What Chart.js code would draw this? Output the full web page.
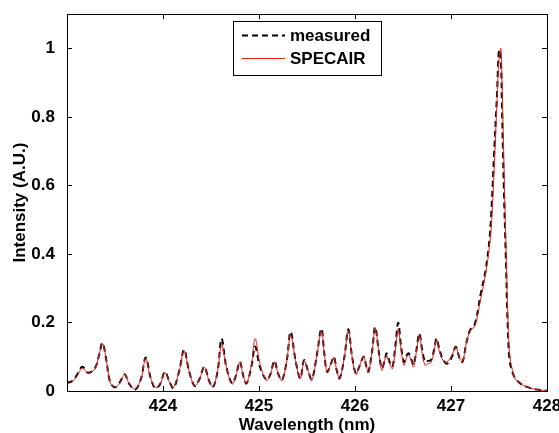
<!DOCTYPE html>
<html>
<head>
<meta charset="utf-8">
<script src="https://cdn.jsdelivr.net/npm/chart.js@4.4.1/dist/chart.umd.min.js"></script>
<style>
html,body{margin:0;padding:0;background:#fff;}
#wrap{width:559px;height:433px;}
</style>
</head>
<body>
<div id="wrap"><canvas id="c" width="559" height="433"></canvas></div>
<script>
// ---- data ----
const wavelength = [
423.00,423.05,423.10,423.16,423.22,423.29,423.33,423.37,423.41,423.45,
423.50,423.55,423.60,423.65,423.71,423.77,423.82,423.87,423.92,423.97,
424.02,424.07,424.11,424.17,424.22,424.27,424.33,424.38,424.43,424.48,
424.52,424.57,424.61,424.66,424.72,424.76,424.80,424.84,424.87,424.92,
424.96,425.01,425.08,425.12,425.16,425.20,425.24,425.29,425.33,425.38,
425.43,425.47,425.51,425.55,425.60,425.65,425.68,425.71,425.75,425.78,
425.81,425.84,425.89,425.93,425.97,426.01,426.05,426.09,426.12,426.14,
426.18,426.21,426.25,426.28,426.31,426.33,426.36,426.39,426.42,426.45,
426.48,426.51,426.54,426.56,426.59,426.61,426.64,426.67,426.70,426.73,
426.76,426.79,426.82,426.85,426.88,426.92,426.96,427.01,427.05,427.09,
427.12,427.16,427.20,427.25,427.31,427.36,427.40,427.42,427.45,427.48,
427.50,427.52,427.53,427.55,427.57,427.59,427.61,427.64,427.67,427.73,
427.79,427.86,427.93,428.00];
const measured = [
0.025,0.028,0.045,0.071,0.053,0.066,0.100,0.140,0.090,0.025,
0.011,0.025,0.049,0.020,0.004,0.035,0.098,0.040,0.008,0.020,
0.056,0.025,0.008,0.060,0.121,0.060,0.015,0.035,0.071,0.030,
0.011,0.060,0.153,0.070,0.022,0.045,0.085,0.040,0.022,0.070,
0.130,0.070,0.032,0.050,0.088,0.050,0.032,0.090,0.173,0.090,
0.037,0.090,0.060,0.034,0.100,0.182,0.110,0.056,0.080,0.100,
0.060,0.037,0.100,0.180,0.100,0.051,0.075,0.100,0.070,0.056,
0.120,0.187,0.110,0.066,0.090,0.110,0.085,0.071,0.130,0.199,
0.130,0.085,0.105,0.110,0.090,0.076,0.120,0.168,0.120,0.085,
0.088,0.090,0.115,0.153,0.120,0.090,0.080,0.100,0.129,0.095,
0.085,0.140,0.178,0.197,0.284,0.352,0.440,0.520,0.700,0.870,
0.995,0.960,0.840,0.600,0.400,0.200,0.090,0.055,0.037,0.020,
0.012,0.006,0.003,0.001];
const specair = [
0.022,0.026,0.042,0.066,0.052,0.064,0.100,0.138,0.090,0.024,
0.012,0.022,0.048,0.020,0.006,0.035,0.095,0.040,0.010,0.020,
0.054,0.025,0.010,0.060,0.118,0.060,0.015,0.035,0.070,0.030,
0.012,0.060,0.135,0.070,0.020,0.045,0.083,0.040,0.022,0.075,
0.153,0.080,0.030,0.050,0.085,0.050,0.030,0.090,0.165,0.090,
0.035,0.088,0.060,0.030,0.100,0.175,0.110,0.055,0.080,0.098,
0.060,0.035,0.100,0.178,0.100,0.048,0.075,0.100,0.070,0.053,
0.120,0.183,0.110,0.060,0.090,0.105,0.080,0.065,0.120,0.180,
0.120,0.075,0.100,0.105,0.085,0.070,0.115,0.165,0.110,0.075,
0.080,0.082,0.110,0.150,0.115,0.088,0.085,0.105,0.128,0.095,
0.085,0.140,0.175,0.190,0.270,0.340,0.420,0.480,0.650,0.850,
0.970,1.000,0.920,0.680,0.450,0.240,0.110,0.060,0.035,0.020,
0.012,0.006,0.003,0.001];
const xTicks = [424, 425, 426, 427, 428];
const yTicks = [0, 0.2, 0.4, 0.6, 0.8, 1];
const seriesNames = ['measured', 'SPECAIR'];
const xTitle = 'Wavelength (nm)';
const yTitle = 'Intensity (A.U.)';

const FONT = "'Liberation Sans', Arial, sans-serif";
const toPts = ys => wavelength.map((x, i) => ({x: x, y: ys[i]}));

const framePlugin = {
  id: 'frame',
  afterDatasetsDraw(chart) {
    const {ctx, chartArea: a, scales} = chart;
    ctx.save();
    ctx.strokeStyle = '#000';
    ctx.lineWidth = 1;
    ctx.beginPath();
    const L = 5;
    xTicks.forEach(v => {
      const px = Math.round(scales.x.getPixelForValue(v)) + 0.5;
      ctx.moveTo(px, a.bottom); ctx.lineTo(px, a.bottom - L);
      ctx.moveTo(px, a.top); ctx.lineTo(px, a.top + L);
    });
    yTicks.forEach(v => {
      const py = Math.round(scales.y.getPixelForValue(v)) + 0.5;
      ctx.moveTo(a.left, py); ctx.lineTo(a.left + L, py);
      ctx.moveTo(a.right, py); ctx.lineTo(a.right - L, py);
    });
    ctx.stroke();
    ctx.strokeRect(Math.round(a.left) + 0.5, Math.round(a.top) + 0.5,
                   Math.round(a.right - a.left), Math.round(a.bottom - a.top));
    // legend box
    const bx = 233.5, by = 21.5, bw = 148, bh = 54;
    ctx.fillStyle = '#fff';
    ctx.fillRect(bx, by, bw, bh);
    ctx.strokeRect(bx, by, bw, bh);
    const ds = chart.data.datasets;
    const rows = [35.5, 58.5];
    seriesNames.forEach((name, i) => {
      const d = ds[i];
      ctx.save();
      ctx.strokeStyle = d.borderColor;
      ctx.lineWidth = d.borderWidth;
      ctx.setLineDash(d.borderDash || []);
      ctx.beginPath();
      ctx.moveTo(242, rows[i]); ctx.lineTo(285, rows[i]);
      ctx.stroke();
      ctx.restore();
      ctx.fillStyle = '#000';
      ctx.font = 'bold 17px ' + FONT;
      ctx.textBaseline = 'middle';
      ctx.textAlign = 'left';
      ctx.fillText(name, 290, rows[i] + 1);
    });
    ctx.restore();
  }
};

new Chart(document.getElementById('c'), {
  type: 'line',
  data: {
    datasets: [
      {label: seriesNames[0], data: toPts(measured), borderColor: '#000000',
       borderWidth: 2, borderDash: [6, 4], pointRadius: 0, fill: false,
       tension: 0.35, order: 1},
      {label: seriesNames[1], data: toPts(specair), borderColor: '#e02020',
       borderWidth: 1, pointRadius: 0, fill: false,
       tension: 0.35, order: 0}
    ]
  },
  options: {
    responsive: false,
    animation: false,
    devicePixelRatio: 1,
    layout: {padding: {left: 0, top: 13, right: 12, bottom: 0}},
    plugins: {legend: {display: false}, tooltip: {enabled: false}},
    scales: {
      x: {
        type: 'linear', min: 423, max: 428,
        grid: {display: false},
        border: {display: false},
        afterBuildTicks: s => { s.ticks = xTicks.map(v => ({value: v})); },
        afterFit: s => { s.height = 42; s.paddingLeft = 0; s.paddingRight = 0; },
        ticks: {color: '#000', font: {family: FONT, size: 17, weight: 'bold'},
                padding: -3, maxRotation: 0, autoSkip: false,
                callback: v => String(v)},
        title: {display: true, text: xTitle, color: '#000',
                font: {family: FONT, size: 17, weight: 'bold'},
                padding: {top: 0, bottom: -3}}
      },
      y: {
        type: 'linear', min: 0, max: 1.1,
        grid: {display: false},
        border: {display: false},
        afterBuildTicks: s => { s.ticks = yTicks.map(v => ({value: v})); },
        afterFit: s => { s.width = 67; },
        ticks: {color: '#000', font: {family: FONT, size: 17, weight: 'bold'},
                padding: 4, autoSkip: false,
                callback: v => String(Math.round(v * 10) / 10)},
        title: {display: true, text: yTitle, color: '#000',
                font: {family: FONT, size: 17, weight: 'bold'},
                padding: {top: 10, bottom: 0}}
      }
    }
  },
  plugins: [framePlugin]
});
</script>
</body>
</html>
